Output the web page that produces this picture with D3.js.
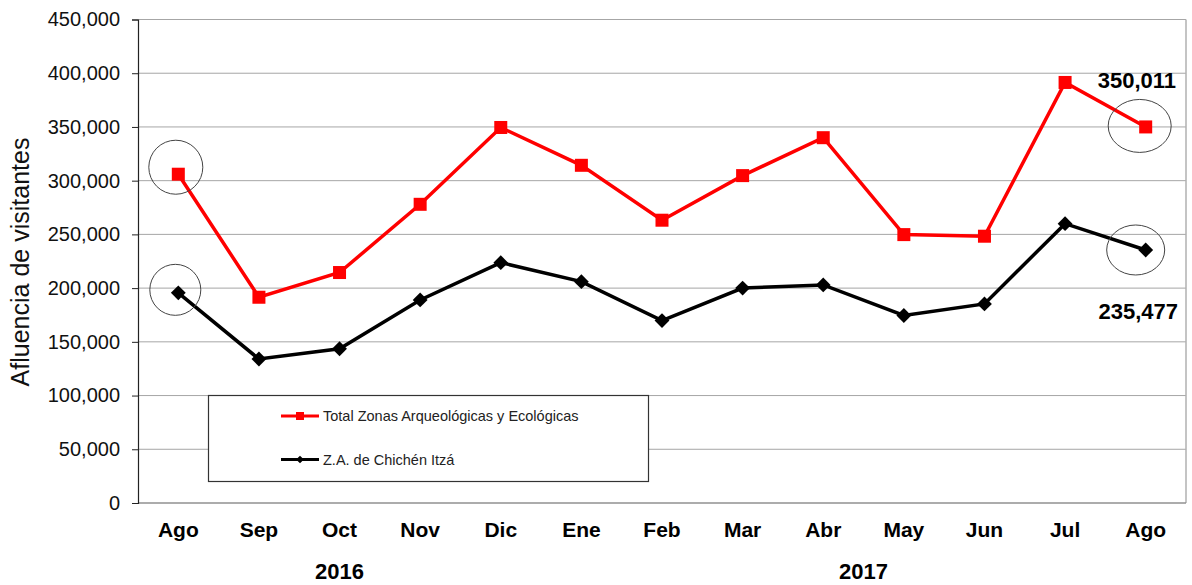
<!DOCTYPE html>
<html>
<head>
<meta charset="utf-8">
<script src="https://cdn.jsdelivr.net/npm/d3@7"></script>
<style>
  body { margin: 0; background: #fff; }
  text { font-family: "Liberation Sans", Arial, sans-serif; }
</style>
</head>
<body>
<div id="chart"></div>
<script>
// Datos del grafico
var meses = ["Ago","Sep","Oct","Nov","Dic","Ene","Feb","Mar","Abr","May","Jun","Jul","Ago "];
var totalZonas = [306000,191500,214500,278000,349500,314300,263200,304700,340000,249800,248300,391400,350011];
var chichen = [195600,134000,143600,189000,223700,206000,169800,200000,203000,174500,185300,260000,235477];
var yTicks = [0,50000,100000,150000,200000,250000,300000,350000,400000,450000];
var anios = [{label: "2016", mes: 2}, {label: "2017", mes: 8.5}];
var nombres = ["Total Zonas Arqueológicas y Ecológicas", "Z.A. de Chichén Itzá"];

var width = 1192, height = 585;
var margin = {top: 19.5, right: 6, bottom: 82, left: 138};

var svg = d3.select("#chart").append("svg")
  .attr("width", width).attr("height", height);

var x = d3.scaleBand().domain(meses)
  .range([margin.left, width - margin.right]);
var y = d3.scaleLinear().domain([0, 450000])
  .range([height - margin.bottom, margin.top]);

var cx = function(i) { return x(meses[i]) + x.bandwidth() / 2; };

// Rejilla
svg.append("g").selectAll("line")
  .data(yTicks.slice(1))
  .enter().append("line")
  .attr("x1", margin.left).attr("x2", width - margin.right)
  .attr("y1", function(d) { return y(d); }).attr("y2", function(d) { return y(d); })
  .attr("stroke", "#a6a6a6").attr("stroke-width", 1);

// Borde derecho y eje inferior (gris)
svg.append("line")
  .attr("x1", width - margin.right).attr("x2", width - margin.right)
  .attr("y1", margin.top).attr("y2", y(0))
  .attr("stroke", "#b0b0b0").attr("stroke-width", 1.5);
svg.append("line")
  .attr("x1", margin.left).attr("x2", width - margin.right)
  .attr("y1", y(0)).attr("y2", y(0))
  .attr("stroke", "#909090").attr("stroke-width", 1.5);

// Eje Y
var yAxis = d3.axisLeft(y).tickValues(yTicks).tickSize(6).tickPadding(12)
  .tickFormat(function(d) { return d === 0 ? "0" : d3.format(",")(d); });
var gy = svg.append("g")
  .attr("transform", "translate(" + margin.left + ",0)")
  .call(yAxis);
gy.select(".domain").attr("stroke", "#222").attr("stroke-width", 1.2);
gy.selectAll(".tick line").attr("stroke", "#222");
gy.selectAll("text").style("font-size", "20px").attr("fill", "#111")
  .style("font-family", "Liberation Sans, Arial, sans-serif");

// Titulo eje Y
svg.append("text")
  .attr("transform", "translate(29,262) rotate(-90)")
  .attr("text-anchor", "middle")
  .style("font-size", "25px").attr("fill", "#111")
  .text("Afluencia de visitantes");

// Etiquetas eje X
svg.append("g").selectAll("text")
  .data(meses).enter().append("text")
  .attr("x", function(d, i) { return cx(i); })
  .attr("y", 537)
  .attr("text-anchor", "middle")
  .style("font-size", "21px").style("font-weight", "bold")
  .text(function(d) { return d.trim(); });

svg.append("g").selectAll("text")
  .data(anios).enter().append("text")
  .attr("x", function(d) { return margin.left + x.step() * (d.mes + 0.5); })
  .attr("y", 579)
  .attr("text-anchor", "middle")
  .style("font-size", "22px").style("font-weight", "bold")
  .text(function(d) { return d.label; });

// Leyenda (caja)
var leg = svg.append("g");
leg.append("rect")
  .attr("x", 208.5).attr("y", 395.5).attr("width", 440).attr("height", 86)
  .attr("fill", "#fff").attr("stroke", "#333").attr("stroke-width", 1.2);

// Lineas
var linea = d3.line()
  .x(function(d, i) { return cx(i); })
  .y(function(d) { return y(d); });

svg.append("path").datum(totalZonas)
  .attr("d", linea).attr("fill", "none")
  .attr("stroke", "#ff0000").attr("stroke-width", 3.5);
svg.append("path").datum(chichen)
  .attr("d", linea).attr("fill", "none")
  .attr("stroke", "#000").attr("stroke-width", 3.5);

svg.append("g").selectAll("rect")
  .data(totalZonas).enter().append("rect")
  .attr("x", function(d, i) { return cx(i) - 6.5; })
  .attr("y", function(d) { return y(d) - 6.5; })
  .attr("width", 13).attr("height", 13)
  .attr("fill", "#ff0000");

var diamante = d3.symbol().type(d3.symbolSquare).size(110);
svg.append("g").selectAll("path")
  .data(chichen).enter().append("path")
  .attr("d", diamante)
  .attr("transform", function(d, i) {
    return "translate(" + cx(i) + "," + y(d) + ") rotate(45)";
  })
  .attr("fill", "#000");

// Elementos de la leyenda
leg.append("line").attr("x1", 281).attr("x2", 319).attr("y1", 416).attr("y2", 416)
  .attr("stroke", "#ff0000").attr("stroke-width", 3);
leg.append("rect").attr("x", 296).attr("y", 412).attr("width", 8).attr("height", 8)
  .attr("fill", "#ff0000");
leg.append("text").attr("x", 323).attr("y", 421)
  .style("font-size", "14.5px").attr("fill", "#222").text(nombres[0]);

leg.append("line").attr("x1", 281).attr("x2", 319).attr("y1", 459.5).attr("y2", 459.5)
  .attr("stroke", "#000").attr("stroke-width", 3);
leg.append("path").attr("d", d3.symbol().type(d3.symbolSquare).size(30))
  .attr("transform", "translate(300,459.5) rotate(45)").attr("fill", "#000");
leg.append("text").attr("x", 323).attr("y", 464.5)
  .style("font-size", "14.5px").attr("fill", "#222").text(nombres[1]);

// Circulos de resalte
var ultimo = meses.length - 1;
var resaltes = [
  {cx: cx(0) - 2.5, cy: y(totalZonas[0]) - 7, rx: 27, ry: 27},
  {cx: cx(0) - 3, cy: y(chichen[0]) - 3, rx: 25.5, ry: 25.5},
  {cx: cx(ultimo) - 6, cy: y(totalZonas[ultimo]) - 1, rx: 31.5, ry: 26.5},
  {cx: cx(ultimo) - 10, cy: y(chichen[ultimo]), rx: 29, ry: 25}
];
svg.append("g").selectAll("ellipse")
  .data(resaltes).enter().append("ellipse")
  .attr("cx", function(d) { return d.cx; }).attr("cy", function(d) { return d.cy; })
  .attr("rx", function(d) { return d.rx; }).attr("ry", function(d) { return d.ry; })
  .attr("fill", "none").attr("stroke", "#444").attr("stroke-width", 1);

// Valores destacados
svg.append("text")
  .attr("x", 1176).attr("y", 88).attr("text-anchor", "end")
  .style("font-size", "22px").style("font-weight", "bold")
  .text(d3.format(",")(totalZonas[ultimo]));
svg.append("text")
  .attr("x", 1178).attr("y", 319).attr("text-anchor", "end")
  .style("font-size", "22px").style("font-weight", "bold")
  .text(d3.format(",")(chichen[ultimo]));
</script>
</body>
</html>
